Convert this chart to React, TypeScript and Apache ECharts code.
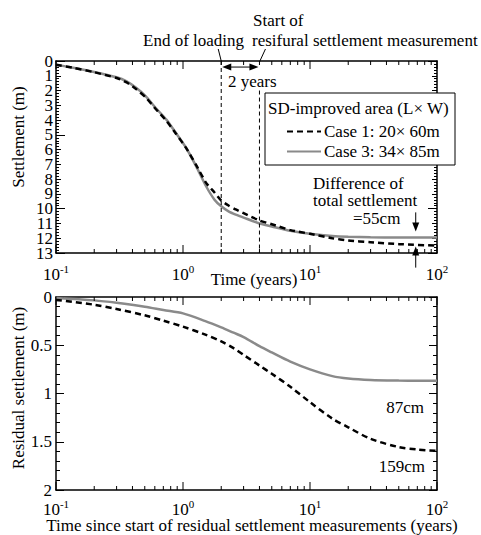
import React, { useEffect, useRef } from "react";
import * as echarts from "echarts";

const FONT = "'Liberation Serif', 'Times New Roman', Times, serif";
const BLACK = "#000000";
const GRAY = "#8a8a8a";

// ---- data ----
const caseNames = ["Case 1: 20× 60m", "Case 3: 34× 85m"];

// Upper panel: total settlement (m) vs time (years)
const topTimes = [0.1, 0.14, 0.2, 0.3, 0.36, 0.43, 0.51, 0.61, 0.74, 0.88, 1.06, 1.27, 1.52, 1.77, 2, 2.3, 2.6, 3, 4, 5, 7, 10, 15, 20, 30, 50, 100];
const topCase1 = [0.25, 0.48, 0.76, 1.15, 1.45, 1.92, 2.47, 3.25, 4.05, 4.92, 5.9, 7.05, 8.25, 8.9, 9.45, 9.8, 10.05, 10.3, 10.8, 11.05, 11.45, 11.7, 12.0, 12.15, 12.27, 12.4, 12.5];
const topCase3 = [0.25, 0.47, 0.74, 1.1, 1.38, 1.83, 2.39, 3.18, 3.97, 4.88, 5.89, 7.13, 8.48, 9.39, 9.84, 10.2, 10.4, 10.6, 11.0, 11.2, 11.5, 11.7, 11.85, 11.9, 11.93, 11.95, 11.95];

// Lower panel: residual settlement (m) vs time since start of measurement (years)
const botTimes = [0.1, 0.2, 0.3, 0.5, 0.7, 1, 1.5, 2, 2.5, 3, 4, 5, 7, 10, 15, 20, 30, 50, 70, 100];
const botCase1 = [0.03, 0.08, 0.125, 0.19, 0.245, 0.307, 0.39, 0.46, 0.53, 0.6, 0.71, 0.795, 0.93, 1.09, 1.26, 1.35, 1.47, 1.555, 1.58, 1.595];
const botCase3 = [0.01, 0.035, 0.06, 0.1, 0.135, 0.17, 0.25, 0.315, 0.37, 0.415, 0.51, 0.575, 0.67, 0.75, 0.82, 0.845, 0.86, 0.866, 0.867, 0.867];

// tick positions
const xMajorTicks = [0.1, 1, 10, 100];
const xMinorTicks = [0.2, 0.3, 0.4, 0.5, 0.6, 0.7, 0.8, 0.9, 2, 3, 4, 5, 6, 7, 8, 9, 20, 30, 40, 50, 60, 70, 80, 90];
const topYLabels = [0, 1, 2, 3, 4, 5, 6, 7, 8, 9, 10, 11, 12, 13];

// axis titles
const topXTitle = "Time (years)";
const topYTitle = "Settlement (m)";
const botXTitle = "Time since start of residual settlement measurements (years)";
const botYTitle = "Residual settlement (m)";

// annotations
const loadingEnd = 2;
const measureStart = 4;
const diffTime = 68;
const case1Final = 12.5;
const case3Final = 11.95;

const supLabel = (v: number) => {
  const e = Math.round(Math.log10(v));
  return `{b|10}{s|${e}}`;
};
const labelRich = {
  b: { fontSize: 17, fontFamily: FONT, color: BLACK, padding: [5, 0, 0, 0], lineHeight: 17 },
  s: { fontSize: 11, fontFamily: FONT, color: BLACK, verticalAlign: "top", lineHeight: 11 },
};

function logAxis(gridIndex: number, position: string, showLabel: boolean, margin: number) {
  return {
    type: "log",
    logBase: 10,
    min: 0.1,
    max: 100,
    gridIndex,
    position,
    axisLine: { show: true, onZero: false, lineStyle: { color: BLACK, width: 1.5 } },
    axisTick: { show: false },
    minorTick: { show: false },
    splitLine: { show: false },
    axisLabel: { show: showLabel, margin, formatter: supLabel, rich: labelRich, hideOverlap: false },
  };
}

function valAxis(gridIndex: number, position: string, min: number, max: number, interval: number, opts: any) {
  return {
    type: "value",
    gridIndex,
    position,
    inverse: true,
    min,
    max,
    interval,
    axisLine: { show: opts.line !== false, onZero: false, lineStyle: { color: BLACK, width: 1.5 } },
    axisTick: { show: true, inside: true, length: opts.tick, lineStyle: { color: BLACK, width: 1 } },
    minorTick: { show: !!opts.minor, splitNumber: opts.minor || 5, length: opts.minorLen || 3, lineStyle: { color: BLACK, width: 1 } },
    splitLine: { show: false },
    minorSplitLine: { show: false },
    axisLabel: {
      show: !!opts.label,
      margin: 4,
      fontSize: 17,
      fontFamily: FONT,
      color: BLACK,
      hideOverlap: false,
      formatter: (v: number) => String(v),
    },
  };
}

// inward x ticks on bottom and top edge of a panel (log positions)
function xTickSeries(xAxisIndex: number, yAxisIndex: number, yMin: number, yMax: number, ticks: number[], len: number) {
  return {
    type: "custom",
    xAxisIndex,
    yAxisIndex,
    silent: true,
    clip: false,
    z: 5,
    data: ticks.map((t) => [t, yMin]),
    encode: { x: 0, y: 1 },
    renderItem: (_p: any, api: any) => {
      const t = api.value(0);
      const b = api.coord([t, yMax]);
      const tp = api.coord([t, yMin]);
      const st = { stroke: BLACK, lineWidth: 1 };
      return {
        type: "group",
        children: [
          { type: "line", shape: { x1: b[0], y1: b[1], x2: b[0], y2: b[1] - len }, style: st },
          { type: "line", shape: { x1: tp[0], y1: tp[1], x2: tp[0], y2: tp[1] + len }, style: st },
        ],
      };
    },
  };
}

// y tick labels of the upper panel
function yLabelSeries(xAxisIndex: number, yAxisIndex: number, values: number[]) {
  return {
    type: "custom",
    xAxisIndex,
    yAxisIndex,
    silent: true,
    clip: false,
    z: 5,
    data: values.map((v) => [0.1, v]),
    encode: { x: 0, y: 1 },
    renderItem: (_p: any, api: any) => {
      const v = api.value(1);
      const p = api.coord([0.1, v]);
      return {
        type: "text",
        x: p[0] - 3,
        y: p[1],
        style: {
          text: String(v),
          fontSize: 17,
          fontFamily: FONT,
          fill: BLACK,
          align: "right",
          textAlign: "right",
          verticalAlign: "middle",
          textVerticalAlign: "middle",
        },
      };
    },
  };
}

function buildOption() {
  const dashed = { color: BLACK, width: 2.5, type: [6, 4] };
  const solid = { color: GRAY, width: 2.5, type: "solid" };
  return {
    animation: false,
    backgroundColor: "#ffffff",
    textStyle: { fontFamily: FONT },
    grid: [
      { left: 56, top: 61, width: 381, height: 192 },
      { left: 56, top: 297, width: 381, height: 193 },
    ],
    xAxis: [
      logAxis(0, "bottom", true, 10),
      logAxis(0, "top", false, 6),
      logAxis(1, "bottom", true, 8),
      logAxis(1, "top", false, 6),
    ],
    yAxis: [
      valAxis(0, "left", 0, 13, 1, { tick: 5, minor: 5, minorLen: 3 }),
      valAxis(0, "right", 0, 13, 1, { tick: 5, minor: 5, minorLen: 3 }),
      valAxis(0, "left", 0, 13, 5, { tick: 9, line: false }),
      valAxis(0, "right", 0, 13, 5, { tick: 9, line: false }),
      valAxis(1, "left", 0, 2, 0.5, { tick: 8, minor: 5, minorLen: 4, label: true }),
      valAxis(1, "right", 0, 2, 0.5, { tick: 8, minor: 5, minorLen: 4 }),
    ],
    legend: {
      data: caseNames,
      orient: "vertical",
      left: 286,
      top: 123,
      padding: 0,
      itemWidth: 34,
      itemHeight: 14,
      itemGap: 3,
      selectedMode: false,
      itemStyle: { opacity: 0 },
      textStyle: { fontSize: 17, fontFamily: FONT, color: BLACK, lineHeight: 17, padding: [0, 0, 0, -2] },
      z: 6,
    },
    series: [
      {
        name: caseNames[1],
        type: "line",
        xAxisIndex: 0,
        yAxisIndex: 0,
        data: topTimes.map((t, i) => [t, topCase3[i]]),
        symbol: "none",
        smooth: 0.2,
        lineStyle: solid,
        itemStyle: { color: GRAY },
        z: 2,
      },
      {
        name: caseNames[0],
        type: "line",
        xAxisIndex: 0,
        yAxisIndex: 0,
        data: topTimes.map((t, i) => [t, topCase1[i]]),
        symbol: "none",
        smooth: 0.2,
        lineStyle: dashed,
        itemStyle: { color: BLACK },
        z: 3,
      },
      {
        name: caseNames[1],
        type: "line",
        xAxisIndex: 2,
        yAxisIndex: 4,
        data: botTimes.map((t, i) => [t, botCase3[i]]),
        symbol: "none",
        smooth: 0.3,
        lineStyle: solid,
        itemStyle: { color: GRAY },
        z: 2,
      },
      {
        name: caseNames[0],
        type: "line",
        xAxisIndex: 2,
        yAxisIndex: 4,
        data: botTimes.map((t, i) => [t, botCase1[i]]),
        symbol: "none",
        smooth: 0.3,
        lineStyle: dashed,
        itemStyle: { color: BLACK },
        z: 3,
      },
      xTickSeries(0, 0, 0, 13, xMajorTicks, 8),
      xTickSeries(0, 0, 0, 13, xMinorTicks, 4),
      xTickSeries(2, 4, 0, 2, xMajorTicks, 8),
      xTickSeries(2, 4, 0, 2, xMinorTicks, 4),
      yLabelSeries(0, 0, topYLabels),
    ],
  };
}

function textEl(text: string, x: number, y: number, align = "left", extra: any = {}, size = 17) {
  return {
    type: "text",
    z: 10,
    x,
    y,
    ...extra,
    style: {
      text,
      fontSize: size,
      fontFamily: FONT,
      fill: BLACK,
      align,
      textAlign: align,
      verticalAlign: "middle",
      textVerticalAlign: "middle",
    },
  };
}

function lineEl(x1: number, y1: number, x2: number, y2: number, dash?: number[]) {
  return {
    type: "line",
    z: 10,
    shape: { x1, y1, x2, y2 },
    style: { stroke: BLACK, lineWidth: 1, lineDash: dash || null },
  };
}

function headEl(tipX: number, tipY: number, dir: "up" | "down" | "left" | "right") {
  const L = 9;
  const W = 3.5;
  let pts: number[][];
  if (dir === "down") pts = [[tipX, tipY], [tipX - W, tipY - L], [tipX + W, tipY - L]];
  else if (dir === "up") pts = [[tipX, tipY], [tipX - W, tipY + L], [tipX + W, tipY + L]];
  else if (dir === "left") pts = [[tipX, tipY], [tipX + L, tipY - W], [tipX + L, tipY + W]];
  else pts = [[tipX, tipY], [tipX - L, tipY - W], [tipX - L, tipY + W]];
  return { type: "polygon", z: 10, shape: { points: pts }, style: { fill: BLACK } };
}

function buildGraphics(chart: any) {
  const px = (si: number, t: number, v: number) => chart.convertToPixel({ seriesIndex: si }, [t, v]) as number[];
  const a0 = px(0, loadingEnd, 0);
  const a1 = px(0, loadingEnd, 13);
  const b0 = px(0, measureStart, 2.0);
  const b1 = px(0, measureStart, 13);
  const bTop = px(0, measureStart, 0);
  const yr = px(0, loadingEnd, 0.41)[1];
  const dDown0 = px(0, diffTime, 10.25);
  const dDown1 = px(0, diffTime, case3Final);
  const dUp = px(0, diffTime, case1Final);
  const els: any[] = [
    lineEl(a0[0], a0[1], a1[0], a1[1], [4, 3]),
    lineEl(b0[0], b0[1], b1[0], b1[1], [4, 3]),
    lineEl(a0[0] - 3, a0[1] - 12, a0[0], a0[1]),
    lineEl(bTop[0] + 6, bTop[1] - 12, bTop[0], bTop[1] + 1),
    lineEl(a0[0] + 4, yr, bTop[0] - 4, yr),
    headEl(a0[0] + 1, yr, "left"),
    headEl(bTop[0] - 1, yr, "right"),
    lineEl(dDown0[0], dDown0[1], dDown0[0], dDown1[1] - 9),
    headEl(dDown0[0], dDown1[1] - 6, "down"),
    lineEl(dUp[0], dUp[1] + 5, dUp[0], dUp[1] + 22),
    headEl(dUp[0], dUp[1] + 1, "up"),
    textEl("Start of", 253, 20),
    textEl("End of loading", 143, 40),
    textEl("resifural settlement measurement", 252, 40),
    textEl("2 years", 228, 81),
    textEl("Difference of", 313, 183),
    textEl("total settlement", 313, 200),
    textEl("=55cm", 353, 218),
    textEl("87cm", 424, 407, "right"),
    textEl("159cm", 425, 466, "right"),
    textEl(topYTitle, 18, 137, "center", { rotation: Math.PI / 2 }),
    textEl(botYTitle, 18, 388, "center", { rotation: Math.PI / 2 }),
    textEl(topXTitle, 254, 279, "center"),
    textEl(botXTitle, 252, 525.5, "center"),
    {
      type: "rect",
      z: 3,
      shape: { x: 265, y: 93, width: 190, height: 72 },
      style: { fill: "#ffffff", stroke: BLACK, lineWidth: 1 },
    },
    textEl("SD-improved area (L× W)", 268, 108),
  ];
  return els;
}

export default function App() {
  const ref = useRef<HTMLDivElement>(null);
  useEffect(() => {
    document.body.style.margin = "0";
    const chart = echarts.init(ref.current as HTMLDivElement, null, { renderer: "svg" });
    chart.setOption(buildOption() as any);
    chart.setOption({ graphic: buildGraphics(chart) } as any);
    return () => chart.dispose();
  }, []);
  return <div ref={ref} style={{ width: 481, height: 535 }} />;
}
